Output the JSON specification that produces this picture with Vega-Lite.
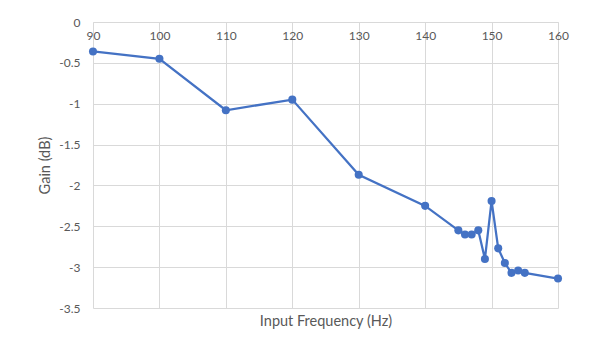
{
  "$schema": "https://vega.github.io/schema/vega-lite/v6.json",
  "width": 465,
  "height": 286,
  "autosize": {"type": "none"},
  "padding": {"left": 93, "top": 22, "right": 35, "bottom": 45},
  "background": "white",
  "config": {
    "view": {"stroke": null},
    "font": "Lato",
    "locale": {"number": {"decimal": ".", "thousands": ",", "grouping": [3], "currency": ["$", ""], "minus": "-"}},
    "axis": {
      "labelColor": "#595959",
      "titleColor": "#595959",
      "labelFont": "Lato",
      "titleFont": "Lato",
      "labelFontSize": 12,
      "titleFontSize": 14.5,
      "titleFontWeight": "normal",
      "gridColor": "#d9d9d9",
      "gridWidth": 1,
      "ticks": false,
      "domain": false
    }
  },
  "data": {
    "values": [
      {"freq": 90, "gain": -0.36},
      {"freq": 100, "gain": -0.45},
      {"freq": 110, "gain": -1.08},
      {"freq": 120, "gain": -0.95},
      {"freq": 130, "gain": -1.87},
      {"freq": 140, "gain": -2.25},
      {"freq": 145, "gain": -2.55},
      {"freq": 146, "gain": -2.6},
      {"freq": 147, "gain": -2.6},
      {"freq": 148, "gain": -2.55},
      {"freq": 149, "gain": -2.9},
      {"freq": 150, "gain": -2.19},
      {"freq": 151, "gain": -2.77},
      {"freq": 152, "gain": -2.95},
      {"freq": 153, "gain": -3.07},
      {"freq": 154, "gain": -3.04},
      {"freq": 155, "gain": -3.07},
      {"freq": 160, "gain": -3.14}
    ]
  },
  "encoding": {
    "x": {
      "field": "freq",
      "type": "quantitative",
      "scale": {"domain": [90, 160], "nice": false, "zero": false},
      "axis": {
        "orient": "bottom",
        "offset": -286,
        "values": [90, 100, 110, 120, 130, 140, 150, 160],
        "format": "d",
        "title": "Input Frequency (Hz)",
        "labelPadding": 13,
        "labelBaseline": "middle",
        "titleY": 299,
        "titleBaseline": "middle",
        "domain": true,
        "domainColor": "#d9d9d9",
        "labelFlush": false
      }
    },
    "y": {
      "field": "gain",
      "type": "quantitative",
      "scale": {"domain": [-3.5, 0], "nice": false},
      "axis": {
        "values": [0, -0.5, -1, -1.5, -2, -2.5, -3, -3.5],
        "format": "~f",
        "title": "Gain (dB)",
        "labelPadding": 13,
        "titleX": -48,
        "titleBaseline": "middle",
        "labelFlush": false
      }
    }
  },
  "layer": [
    {"mark": {"type": "line", "color": "#4472C4", "strokeWidth": 2.25}},
    {"mark": {"type": "point", "filled": true, "opacity": 1, "color": "#4472C4", "size": 65}}
  ]
}
